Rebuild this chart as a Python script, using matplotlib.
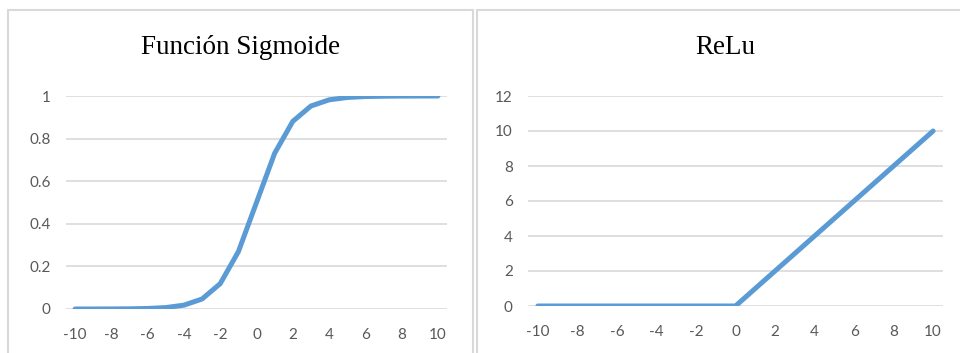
import matplotlib
matplotlib.use("Agg")
import matplotlib.pyplot as plt
from matplotlib.patches import Rectangle

# Data
x_values = [-10, -9, -8, -7, -6, -5, -4, -3, -2, -1, 0, 1, 2, 3, 4, 5, 6, 7, 8, 9, 10]
sigmoid_values = [0.00005, 0.0001, 0.0003, 0.0009, 0.0025, 0.0067, 0.018, 0.047,
                  0.119, 0.269, 0.5, 0.731, 0.881, 0.953, 0.982, 0.993, 0.9975,
                  0.999, 0.9997, 0.9999, 1.0]
relu_values = [0, 0, 0, 0, 0, 0, 0, 0, 0, 0, 0, 1, 2, 3, 4, 5, 6, 7, 8, 9, 10]
x_tick_labels = ["-10", "-8", "-6", "-4", "-2", "0", "2", "4", "6", "8", "10"]
sigmoid_yticks = [0, 0.2, 0.4, 0.6, 0.8, 1]
sigmoid_ylabels = ["0", "0.2", "0.4", "0.6", "0.8", "1"]
relu_yticks = [0, 2, 4, 6, 8, 10, 12]
titles = ["Función Sigmoide", "ReLu"]

W, H = 960, 353
LINE = "#5B9BD5"
GRID = "#D9D9D9"
TICK = "#595959"
BORDER = "#D9D9D9"

fig = plt.figure(figsize=(W / 100, H / 100), dpi=100)
fig.patch.set_facecolor("white")


def px_rect(x0, y0, x1, y1):
    """Convert a pixel box (top-left origin) to figure fractions."""
    return [x0 / W, 1 - y1 / H, (x1 - x0) / W, (y1 - y0) / H]


# Chart area borders
for x0, x1 in [(8, 473), (477, 975)]:
    fig.patches.append(Rectangle((x0 / W, -0.05), (x1 - x0) / W, 1 - 10 / H + 0.05,
                                 transform=fig.transFigure, fill=False,
                                 edgecolor=BORDER, linewidth=1.5))


def draw_panel(box, yvals, yticks, ylabels, ymax, title, title_x):
    ax = fig.add_axes(px_rect(*box))
    positions = list(range(len(x_values)))
    ax.plot(positions, yvals, color=LINE, linewidth=3.6,
            solid_capstyle="round", solid_joinstyle="round", zorder=3)
    ax.set_xlim(-0.5, len(x_values) - 0.5)
    ax.set_ylim(0, ymax)
    ax.set_yticks(yticks)
    ax.set_yticklabels(ylabels)
    ax.set_xticks(positions[::2])
    ax.set_xticklabels(x_tick_labels)
    for s in ax.spines.values():
        s.set_visible(False)
    ax.grid(axis="y", color=GRID, linewidth=1.2, zorder=0)
    ax.tick_params(axis="both", length=0, colors=TICK, labelsize=11)
    ax.tick_params(axis="y", pad=11)
    ax.tick_params(axis="x", pad=14)
    for lbl in ax.get_xticklabels() + ax.get_yticklabels():
        lbl.set_fontfamily("Lato")
    ax.set_axisbelow(True)
    fig.text(title_x / W, 1 - 47 / H, title, ha="center", va="center",
             fontsize=19.5, family="Liberation Serif", color="black")
    return ax


draw_panel((66, 96, 447, 309), sigmoid_values, sigmoid_yticks, sigmoid_ylabels,
           1.0, titles[0], 241)
draw_panel((528, 96, 943, 306), relu_values, relu_yticks,
           [str(v) for v in relu_yticks], 12, titles[1], 725)

fig.savefig("out.png", dpi=100, facecolor="white")
